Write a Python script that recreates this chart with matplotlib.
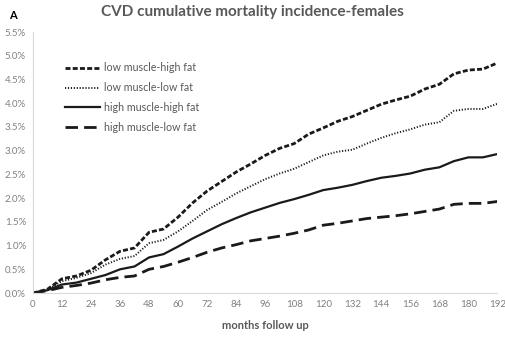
import matplotlib
matplotlib.use("Agg")
import matplotlib.pyplot as plt
from matplotlib.ticker import FuncFormatter

months = [0, 6, 12, 18, 24, 30, 36, 42, 48, 54, 60, 66, 72, 78, 84, 90, 96,
          102, 108, 114, 120, 126, 132, 138, 144, 150, 156, 162, 168, 174, 180, 186, 192]
low_muscle_high_fat = [0, 0.08, 0.30, 0.36, 0.48, 0.70, 0.88, 0.95, 1.28, 1.35, 1.60, 1.90, 2.15,
                       2.35, 2.55, 2.72, 2.90, 3.05, 3.15, 3.35, 3.48, 3.62, 3.72, 3.85, 3.98,
                       4.07, 4.15, 4.30, 4.40, 4.62, 4.70, 4.72, 4.85]
low_muscle_low_fat = [0, 0.07, 0.25, 0.32, 0.42, 0.60, 0.72, 0.78, 1.05, 1.12, 1.30, 1.52, 1.75,
                      1.92, 2.10, 2.25, 2.40, 2.52, 2.62, 2.76, 2.90, 2.98, 3.02, 3.15, 3.27,
                      3.37, 3.45, 3.55, 3.60, 3.84, 3.88, 3.88, 3.99]
high_muscle_high_fat = [0, 0.06, 0.18, 0.22, 0.30, 0.38, 0.50, 0.56, 0.75, 0.82, 0.98, 1.15, 1.30,
                        1.45, 1.58, 1.70, 1.80, 1.90, 1.98, 2.07, 2.17, 2.22, 2.28, 2.36, 2.43,
                        2.47, 2.52, 2.60, 2.65, 2.78, 2.86, 2.86, 2.93]
high_muscle_low_fat = [0, 0.05, 0.12, 0.16, 0.21, 0.28, 0.33, 0.36, 0.50, 0.56, 0.65, 0.75, 0.86,
                       0.95, 1.02, 1.10, 1.15, 1.20, 1.26, 1.33, 1.43, 1.47, 1.52, 1.57, 1.60,
                       1.63, 1.67, 1.72, 1.77, 1.87, 1.89, 1.89, 1.93]
series_labels = ["low muscle-high fat", "low muscle-low fat",
                 "high muscle-high fat", "high muscle-low fat"]
x_ticks = list(range(0, 193, 12))
y_ticks = [0.0, 0.5, 1.0, 1.5, 2.0, 2.5, 3.0, 3.5, 4.0, 4.5, 5.0, 5.5]

plt.rcParams['font.family'] = ['Lato', 'DejaVu Sans']

fig = plt.figure(figsize=(5.06, 3.38), dpi=100)
ax = fig.add_axes([0.065, 0.133, 0.918, 0.772])

series = [low_muscle_high_fat, low_muscle_low_fat, high_muscle_high_fat, high_muscle_low_fat]
styles = [
    dict(linestyle=(0, (1.8, 0.8)), linewidth=2.0),
    dict(linestyle=(0, (0.6, 0.9)), linewidth=1.4),
    dict(linestyle='-', linewidth=1.6),
    dict(linestyle=(0, (4.5, 2.2)), linewidth=2.0),
]
for vals, lab, st in zip(series, series_labels, styles):
    ax.plot(months, vals, color='#1a1a1a', label=lab, **st)

ax.set_xlim(0, 192)
ax.set_ylim(0, 5.5)
ax.set_xticks(x_ticks)
ax.set_yticks(y_ticks)
ax.yaxis.set_major_formatter(FuncFormatter(lambda v, p: f"{v:.1f}%"))
ax.tick_params(axis='both', length=0, labelsize=7, colors='#808080', pad=5)
for s in ['top', 'right']:
    ax.spines[s].set_visible(False)
ax.spines['left'].set_color('#d9d9d9')
ax.spines['bottom'].set_color('#d9d9d9')

ax.set_xlabel("months follow up", fontsize=8, fontweight='bold', color='#595959', labelpad=8)

fig.text(0.498, 0.965, "CVD cumulative mortality incidence-females", ha='center', va='center',
         fontsize=11, fontweight='bold', color='#595959')
fig.text(0.018, 0.955, "A", ha='left', va='center', fontsize=8, fontweight='bold', color='black')

leg = ax.legend(loc='upper left', bbox_to_anchor=(0.06, 0.90), frameon=False, fontsize=7.7,
                handlelength=3.3, handletextpad=0.3, labelspacing=0.82, borderaxespad=0)
for t in leg.get_texts():
    t.set_color('#595959')

fig.savefig("out.png", dpi=100)
